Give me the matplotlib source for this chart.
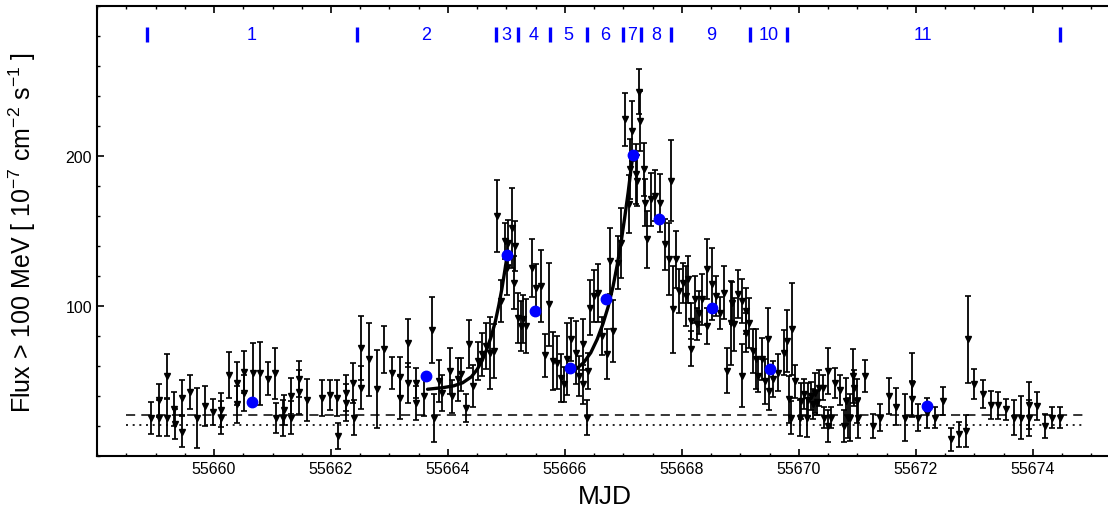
import numpy as np
import matplotlib
matplotlib.use('Agg')
import matplotlib.pyplot as plt
from matplotlib.ticker import FixedLocator, MultipleLocator

plt.rcParams['font.family'] = ['Liberation Sans', 'DejaVu Sans']
plt.rcParams['mathtext.fontset'] = 'custom'
plt.rcParams['mathtext.rm'] = 'Liberation Sans'

# light curve points: MJD, flux, error  (10^-7 cm^-2 s^-1)
mjd = [
    55658.92, 55659.06, 55659.06, 55659.19, 55659.19, 55659.32, 55659.33, 55659.46, 55659.46, 55659.59,
    55659.71, 55659.85, 55659.99, 55660.12, 55660.12, 55660.26, 55660.39, 55660.40, 55660.52, 55660.52,
    55660.66, 55660.79, 55660.92, 55661.05, 55661.06, 55661.18, 55661.19, 55661.32, 55661.32, 55661.45,
    55661.45, 55661.59, 55661.85, 55661.98, 55662.11, 55662.12, 55662.25, 55662.25, 55662.38, 55662.39,
    55662.52, 55662.52, 55662.65, 55662.78, 55662.91, 55663.04, 55663.18, 55663.18, 55663.32, 55663.32,
    55663.45, 55663.45, 55663.59, 55663.72, 55663.76,
    55663.85, 55663.90, 55664.03, 55664.07, 55664.17, 55664.22, 55664.30, 55664.36, 55664.43, 55664.51,
    55664.58, 55664.65, 55664.72, 55664.79, 55664.83, 55664.90, 55664.97, 55665.01, 55665.03, 55665.09,
    55665.13, 55665.15, 55665.20, 55665.25, 55665.28, 55665.33, 55665.44, 55665.50, 55665.59, 55665.66,
    55665.73, 55665.80, 55665.87, 55665.93, 55665.98, 55666.04, 55666.11, 55666.18, 55666.24, 55666.30,
    55666.31, 55666.37, 55666.39, 55666.43, 55666.50, 55666.57, 55666.64, 55666.71, 55666.77, 55666.82,
    55666.90, 55666.96, 55667.03, 55667.10, 55667.11, 55667.15, 55667.22, 55667.23, 55667.27, 55667.28,
    55667.35, 55667.36, 55667.40, 55667.47, 55667.54, 55667.62,
    55667.71, 55667.77, 55667.82, 55667.84, 55667.89, 55667.95, 55668.02, 55668.07, 55668.11, 55668.16,
    55668.16, 55668.22, 55668.25, 55668.29, 55668.35, 55668.42, 55668.43, 55668.51, 55668.58, 55668.65,
    55668.71, 55668.77, 55668.83, 55668.85, 55668.89, 55668.96, 55669.02, 55669.03, 55669.09, 55669.10,
    55669.15, 55669.22, 55669.26, 55669.30, 55669.36, 55669.42, 55669.47, 55669.48, 55669.56, 55669.64,
    55669.74, 55669.80, 55669.83, 55669.88, 55669.94, 55669.87,
    55670.01, 55670.03, 55670.09, 55670.14, 55670.15, 55670.21, 55670.24, 55670.28, 55670.31, 55670.35,
    55670.41, 55670.43, 55670.49, 55670.50, 55670.55, 55670.62, 55670.70, 55670.77, 55670.81, 55670.83,
    55670.87, 55670.93, 55670.94, 55670.99, 55671.01, 55671.12, 55671.26, 55671.39, 55671.53, 55671.66,
    55671.81, 55671.93, 55671.94, 55672.04, 55672.19, 55672.33, 55672.47, 55672.60, 55672.74, 55672.85,
    55672.89, 55673.00, 55673.14, 55673.28, 55673.41, 55673.54, 55673.68, 55673.80, 55673.93, 55673.93,
    55674.06, 55674.20, 55674.33, 55674.46,
]
flux = [
    25.8, 37.3, 25.8, 53.6, 25.8, 31.3, 21.3, 39.1, 16.4, 42.9,
    25.8, 33.6, 29.6, 30.7, 25.8, 54.4, 48.7, 34.7, 56.2, 42.0,
    55.3, 55.3, 51.8, 55.3, 25.8, 25.8, 30.7, 40.2, 25.8, 51.3,
    42.9, 37.6, 39.1, 40.9, 39.1, 13.6, 42.4, 35.8, 49.1, 25.8,
    72.2, 45.8, 64.7, 45.1, 71.3, 55.3, 53.1, 39.1, 75.3, 49.1,
    48.7, 35.8, 40.2, 84.0, 25.8,
    50.2, 42.4, 56.9, 40.2, 51.3, 54.7, 32.4, 74.7, 46.9, 63.6,
    68.0, 73.6, 69.1, 70.2, 160.2, 103.6, 143.6, 125.8, 142.4, 152.4,
    115.8, 140.2, 92.4, 86.9, 91.3, 86.9, 125.8, 112.4, 113.6, 67.3,
    101.3, 63.6, 62.4, 52.4, 48.0, 64.7, 78.0, 69.1, 53.6, 74.7,
    48.0, 25.8, 56.9, 99.1, 106.9, 109.0, 80.2, 68.0, 130.2, 83.6,
    129.1, 142.4, 224.7, 168.0, 191.3, 216.9, 188.0, 183.6, 243.0, 223.6,
    191.3, 169.0, 144.7, 171.3, 173.6, 169.0,
    141.3, 131.3, 183.6, 98.0, 131.3, 110.2, 115.8, 106.9, 118.0, 71.8,
    90.2, 104.7, 88.0, 95.8, 104.7, 124.7, 86.9, 114.7, 106.9, 95.8,
    109.1, 56.9, 89.1, 102.4, 88.0, 108.0, 103.6, 53.6, 96.9, 82.4,
    89.1, 70.2, 64.7, 53.6, 64.7, 50.2, 78.0, 43.6, 51.3, 55.8,
    69.1, 76.9, 38.0, 84.7, 50.2, 25.8,
    25.8, 36.9, 41.3, 25.8, 37.8, 40.2, 34.7, 42.0, 36.0, 45.8,
    45.8, 25.8, 56.9, 20.2, 25.8, 49.1, 44.4, 20.2, 36.9, 25.8,
    25.8, 53.6, 45.8, 36.9, 25.8, 53.6, 20.2, 25.8, 40.2, 33.1,
    25.8, 48.0, 38.0, 25.8, 29.1, 25.8, 36.9, 11.3, 14.7, 16.9,
    78.0, 48.0, 41.3, 34.0, 34.0, 31.3, 25.8, 25.8, 34.0, 25.8,
    33.3, 20.2, 25.8, 25.8,
]
ferr = [
    10.6, 10.9, 12.0, 14.4, 12.2, 11.3, 10.0, 11.7, 10.5, 11.3,
    20.0, 13.3, 8.9, 11.4, 11.1, 15.2, 14.2, 12.2, 14.0, 12.0,
    20.0, 21.0, 11.0, 17.0, 10.0, 12.0, 10.0, 12.0, 11.0, 12.0,
    14.5, 14.0, 12.0, 10.3, 12.0, 8.6, 12.0, 12.4, 13.3, 11.7,
    21.6, 14.4, 24.4, 26.0, 15.7, 10.6, 13.0, 14.4, 16.0, 13.3,
    10.0, 11.4, 13.3, 22.0, 16.0,
    13.9, 12.0, 15.6, 11.0, 14.4, 11.0, 9.4, 16.0, 13.9, 12.8,
    14.4, 15.6, 24.0, 17.8, 23.8, 13.9, 12.0, 18.0, 15.0, 26.7,
    17.8, 16.7, 16.7, 16.7, 16.0, 17.8, 19.4, 15.6, 24.0, 14.4,
    27.8, 19.4, 17.8, 16.0, 11.7, 24.0, 14.4, 21.0, 13.3, 17.0,
    12.8, 11.7, 12.0, 18.3, 17.2, 19.4, 12.8, 16.7, 22.0, 20.6,
    17.8, 23.3, 17.8, 19.4, 20.0, 20.0, 20.0, 17.0, 15.0, 20.0,
    17.8, 15.6, 19.0, 17.8, 17.0, 19.4,
    17.0, 24.0, 27.0, 29.0, 19.0, 14.4, 13.3, 20.0, 15.6, 11.7,
    12.0, 15.6, 10.6, 14.4, 17.0, 20.0, 12.0, 24.0, 13.3, 10.6,
    17.8, 15.0, 28.0, 14.0, 17.8, 16.0, 14.4, 21.0, 15.6, 13.0,
    16.7, 14.4, 20.0, 11.0, 14.0, 15.0, 20.6, 13.0, 12.0, 12.2,
    15.0, 20.6, 15.6, 30.6, 11.0, 11.0,
    12.0, 11.7, 10.0, 12.8, 11.0, 9.4, 10.0, 13.3, 8.3, 12.0,
    8.3, 7.2, 15.6, 10.6, 7.2, 10.0, 10.0, 10.6, 15.6, 13.3,
    15.6, 17.8, 12.0, 14.4, 13.3, 10.6, 7.8, 8.9, 11.7, 12.2,
    15.6, 21.0, 12.0, 8.9, 10.0, 7.2, 9.4, 7.8, 8.3, 10.6,
    29.0, 10.0, 9.4, 9.4, 8.9, 7.2, 11.7, 14.4, 15.6, 12.0,
    9.4, 8.3, 7.2, 7.2,
]

# averaged flux in each period
period_mjd = [55660.65, 55663.62, 55665.01, 55665.48, 55666.08, 55666.70,
              55667.17, 55667.60, 55668.51, 55669.50, 55672.19]
period_flux = [36.2, 53.3, 134.4, 96.7, 58.9, 104.9, 200.9, 158.2, 98.7, 58.2, 33.3]

# period boundaries (blue bars on top)
bounds = [55658.86, 55662.44, 55664.82, 55665.19, 55665.74, 55666.38,
          55667.00, 55667.30, 55667.82, 55669.17, 55669.79, 55674.46]
period_names = ['1', '2', '3', '4', '5', '6', '7', '8', '9', '10', '11']

# exponential rise fits
fit1_t = [55663.65, 55663.92, 55664.10, 55664.25, 55664.40, 55664.50, 55664.58, 55664.66,
          55664.74, 55664.81, 55664.87, 55664.92, 55664.96, 55665.00, 55665.02]
fit1_f = [44.7, 45.8, 47.0, 49.0, 53.0, 58.0, 63.5, 71.0, 80.0, 90.0, 101.0, 111.5, 121.0, 131.0, 137.0]
fit2_t = [55666.07, 55666.20, 55666.32, 55666.44, 55666.55, 55666.65, 55666.74, 55666.82,
          55666.89, 55666.96, 55667.02, 55667.08, 55667.13, 55667.17]
fit2_f = [56.0, 58.5, 62.5, 69.0, 78.0, 88.5, 100.0, 113.0, 127.0, 143.0, 159.0, 176.0, 192.0, 203.0]

# quiescent levels
level_dashed = 27.5
level_dotted = 21.0
level_range = [55658.5, 55674.9]

fig = plt.figure(figsize=(11.08, 5.10), dpi=100)
ax = fig.add_axes([97/1108, (510-457.3)/510, (1112-97)/1108, 450/510])

ax.errorbar(mjd, flux, yerr=ferr, fmt='v', color='k', ms=5, capsize=2.2,
            elinewidth=1.3, capthick=1.2, zorder=3)

ax.plot(fit1_t, fit1_f, color='k', lw=2.4, zorder=4, solid_capstyle='round')
ax.plot(fit2_t, fit2_f, color='k', lw=2.4, zorder=4, solid_capstyle='round')

ax.hlines(level_dashed, level_range[0], level_range[1], colors='k', linestyles=(0, (6, 4)), lw=1.1)
ax.hlines(level_dotted, level_range[0], level_range[1], colors='k', linestyles=(0, (1.2, 2.8)), lw=1.2)

ax.plot(period_mjd, period_flux, 'o', color='#0000ff', ms=7.5, zorder=5)

# period markers
ax.vlines(bounds, 276, 286, colors='#0000ff', lw=2.4)
for i, name in enumerate(period_names):
    mid = 0.5 * (bounds[i] + bounds[i+1])
    ax.text(mid, 281, name, color='#0000ff', fontsize=13, ha='center', va='center')

ax.set_xlim(55658, 55658 + 1015/58.5)
ax.set_ylim(0, 300)

ax.xaxis.set_major_locator(FixedLocator(np.arange(55660, 55675, 2)))
ax.xaxis.set_minor_locator(MultipleLocator(0.5))
ax.yaxis.set_major_locator(FixedLocator([100, 200]))
ax.yaxis.set_minor_locator(MultipleLocator(20))
ax.ticklabel_format(axis='x', useOffset=False, style='plain')

ax.tick_params(which='both', direction='in', top=True, right=False, labelsize=11.5)
ax.tick_params(which='major', length=5, width=1.2)
ax.tick_params(which='minor', length=2.5, width=1.0)
for sp in ax.spines.values():
    sp.set_linewidth(1.5)

ax.set_xlabel('MJD', fontsize=19)
ax.set_ylabel('Flux > 100 MeV [ 10$^{-7}$ cm$^{-2}$ s$^{-1}$ ]', fontsize=18)
ax.xaxis.set_label_coords(0.5, -0.062)
ax.yaxis.set_label_coords(-0.058, 0.5)

fig.savefig('out.png', dpi=100)
